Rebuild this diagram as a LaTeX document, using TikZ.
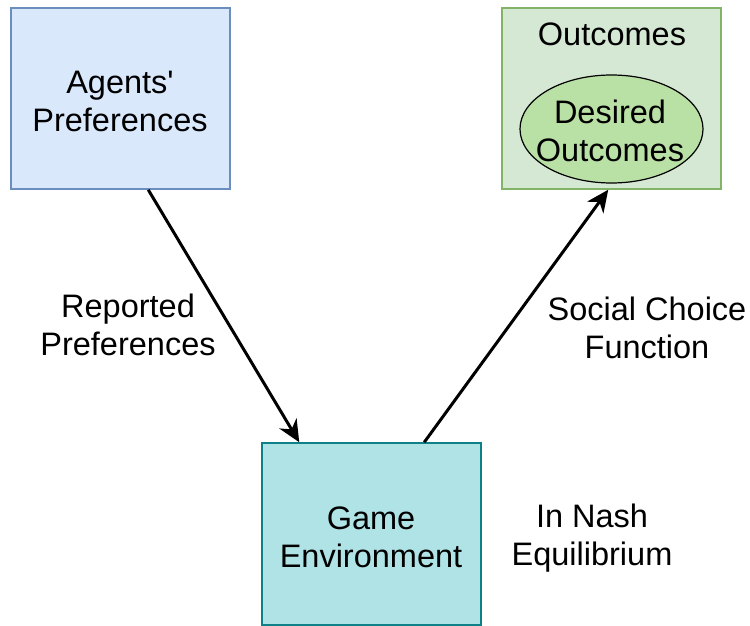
\documentclass[tikz,border=0pt]{standalone}
\usepackage{fontspec}
\setmainfont{Liberation Sans}[Ligatures=TeXOff]
\usetikzlibrary{arrows.meta,calc,shapes.geometric}
\definecolor{blueFill}{HTML}{DAE8FC}
\definecolor{blueLine}{HTML}{6C8EBF}
\definecolor{greenFill}{HTML}{D5E8D4}
\definecolor{greenLine}{HTML}{82B366}
\definecolor{ovalFill}{HTML}{B9E0A5}
\definecolor{tealFill}{HTML}{B0E3E6}
\definecolor{tealLine}{HTML}{0E8088}
\tikzset{
  lbl/.style={font=\fontsize{32.5}{38}\selectfont, align=center, inner sep=0pt},
  box/.style={draw, line width=1.5pt, minimum width=219pt, inner sep=0pt},
  flow/.style={line width=3pt, -{Stealth[length=22pt, width=20pt, inset=7pt]}}
}
\begin{document}
\begin{tikzpicture}[x=1pt, y=-1pt]
  \useasboundingbox (0,0) rectangle (750,626);
  % boxes
  \node[box, fill=blueFill, draw=blueLine, minimum height=181pt] (agents) at (120.5,98.5) {};
  \node[box, fill=greenFill, draw=greenLine, minimum height=181pt] (outcomes) at (611.5,98.5) {};
  \node[box, fill=tealFill, draw=tealLine, minimum height=182pt] (game) at (371.5,534) {};
  \node[ellipse, draw=black, line width=1.2pt, fill=ovalFill, minimum width=183pt, minimum height=108pt, inner sep=0pt] (desired) at (611.5,129) {};
  % texts
  \node[lbl] (agentsTxt) at (120,101) {Agents'\\Preferences};
  \node[lbl] (outTxt) at (612,34) {Outcomes};
  \node[lbl] (desiredTxt) at (610,131) {Desired\\Outcomes};
  \node[lbl] (gameTxt) at (371,537) {Game\\Environment};
  \node[lbl] (reported) at (128,325) {Reported\\Preferences};
  \node[lbl] (social) at (647,328) {Social Choice\\Function};
  \node[lbl] (nash) at (592,538) {In Nash\\Equilibrium};
  % connectors
  \coordinate (a1) at ($(agents.south west)+(138,0)$);
  \coordinate (g1) at ($(game.north west)+(38,0)$);
  \coordinate (g2) at ($(game.north west)+(163,0)$);
  \coordinate (o1) at ($(outcomes.south west)+(107,0)$);
  \draw[flow] (a1) -- (g1);
  \draw[flow] (g2) -- (o1);
\end{tikzpicture}
\end{document}
